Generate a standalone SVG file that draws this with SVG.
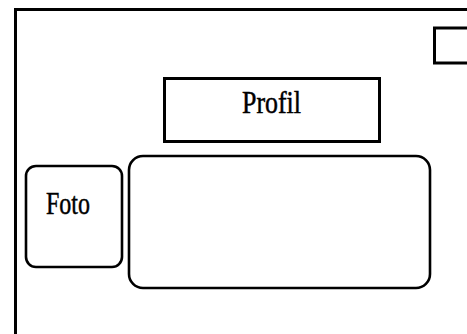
<svg xmlns="http://www.w3.org/2000/svg" width="467" height="334" viewBox="0 0 467 334">
<style>
.box{fill:#fff;stroke:#000;stroke-width:3}
.rbox{fill:#fff;stroke:#000;stroke-width:2.6}
.lbl{font-family:"Liberation Serif","DejaVu Serif",serif;font-size:31px;fill:#000;stroke:#000;stroke-width:0.5}
</style>
<rect width="467" height="334" fill="#fff"/>
<g id="frame"><rect class="box" x="15.5" y="9.5" width="520" height="400"/></g>
<g id="checkbox"><rect class="box" x="434.5" y="28" width="38" height="35"/></g>
<g id="profil"><rect class="box" x="164.5" y="78.5" width="215" height="63"/>
<text class="lbl" x="242" y="113" textLength="59" lengthAdjust="spacingAndGlyphs">Profil</text></g>
<g id="foto"><rect class="rbox" x="26" y="166" width="96" height="101" rx="10"/>
<text class="lbl" x="46" y="214" textLength="44" lengthAdjust="spacingAndGlyphs">Foto</text></g>
<g id="content"><rect class="rbox" x="129" y="156" width="301" height="132" rx="14"/></g>
<g id="connectors"/>
</svg>
